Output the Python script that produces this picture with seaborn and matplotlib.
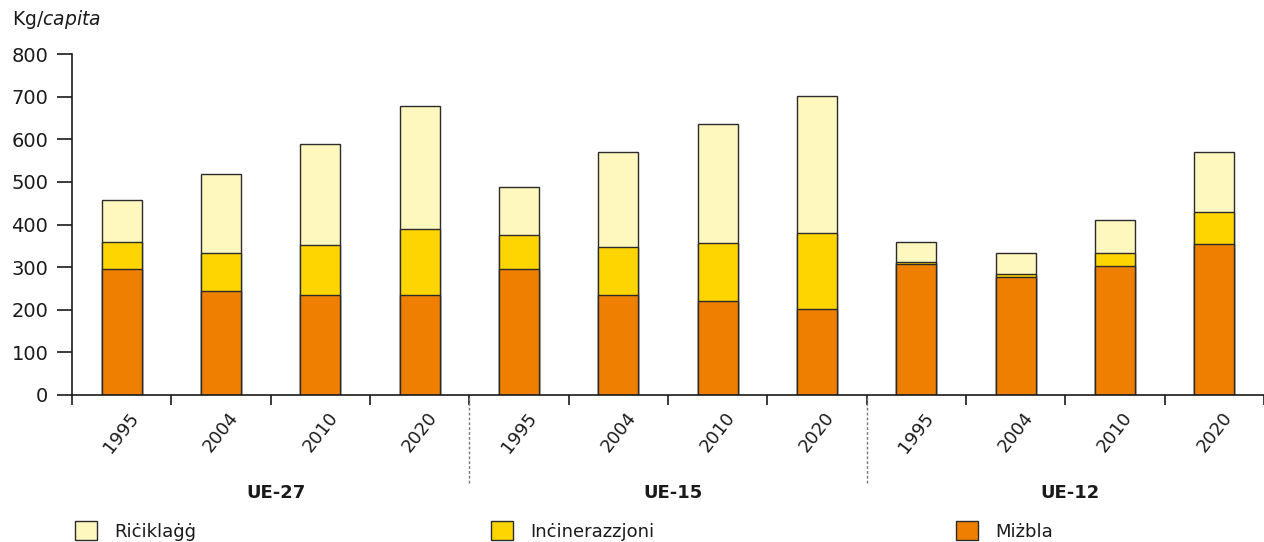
import numpy as np
import pandas as pd
import matplotlib
matplotlib.use("Agg")
import matplotlib.pyplot as plt
import matplotlib.transforms as mtransforms
from matplotlib.patches import Patch
import seaborn as sns

# Municipal waste treatment, kg per capita
groups = ["UE-27", "UE-15", "UE-12"]
years = ["1995", "2004", "2010", "2020"]
landfill = [295, 243, 234, 234, 295, 234, 220, 201, 308, 276, 303, 355]
incineration = [65, 90, 117, 155, 80, 113, 136, 178, 4, 9, 29, 75]
recycling = [98, 186, 239, 289, 112, 224, 280, 322, 48, 47, 79, 140]
series_names = ["Riċiklaġġ", "Inċinerazzjoni", "Miżbla"]
y_ticks = [0, 100, 200, 300, 400, 500, 600, 700, 800]

colors = {"Riċiklaġġ": "#FEF7BE", "Inċinerazzjoni": "#FFD500", "Miżbla": "#EE7F00"}
edge = "#2b2b2b"
text_color = "#1a1a1a"

slots = [f"{g} {y}" for g in groups for y in years]
df = pd.DataFrame({
    "slot": slots,
    "landfill": landfill,
    "incineration": incineration,
    "recycling": recycling,
})
df["lvl_incin"] = df["landfill"] + df["incineration"]
df["lvl_total"] = df["lvl_incin"] + df["recycling"]

sns.set_style("ticks")
plt.rcParams["font.family"] = ["DejaVu Sans"]

fig = plt.figure(figsize=(12.64, 5.42), dpi=100)
ax = fig.add_axes([72 / 1264, 147 / 542, 1192 / 1264, 341 / 542])

# stacked bars drawn as overlapping cumulative levels
for col, name in [("lvl_total", "Riċiklaġġ"), ("lvl_incin", "Inċinerazzjoni"), ("landfill", "Miżbla")]:
    sns.barplot(data=df, x="slot", y=col, order=slots, color=colors[name],
                saturation=1, width=0.4, edgecolor=edge, linewidth=1,
                errorbar=None, ax=ax)

ax.set_xlim(-0.5, 11.42)
ax.set_ylim(0, 800)
ax.set_yticks(y_ticks)
ax.set_xlabel("")
ax.set_ylabel("")
sns.despine(ax=ax, top=True, right=True)
for sp in ["left", "bottom"]:
    ax.spines[sp].set_color(text_color)
    ax.spines[sp].set_linewidth(1.2)

ax.tick_params(axis="y", length=11, width=1.2, pad=6, labelsize=14,
               colors=text_color)
ax.set_xticks(range(len(slots)))
ax.set_xticklabels(years * len(groups), rotation=52, ha="right", va="center",
                   rotation_mode="anchor", fontsize=13, color=text_color)
ax.tick_params(axis="x", which="major", length=0, pad=14)
ax.set_xticks(np.arange(-0.5, len(slots), 1), minor=True)
ax.tick_params(axis="x", which="minor", length=7, width=1.2, color=text_color)
shift = mtransforms.ScaledTranslation(10 / 72, 0, fig.dpi_scale_trans)
for lab in ax.get_xticklabels():
    lab.set_transform(lab.get_transform() + shift)

# group separators and names
for xb in [3.5, 7.5]:
    ax.axvline(xb, ymin=-0.258, ymax=0, color="#777777", lw=1,
               linestyle=(0, (2, 1.5)), clip_on=False)
trans = mtransforms.blended_transform_factory(ax.transData, fig.transFigure)
for i, g in enumerate(groups):
    ax.text(i * 4 + 1.55, 1 - 493 / 542, g, transform=trans, ha="center",
            va="center", fontsize=13, fontweight="bold", color=text_color)

fig.text(12 / 1264, 1 - 25 / 542, "Kg/$\\mathit{capita}$", fontsize=13.5,
         color=text_color, ha="left", va="baseline")

# legend, one entry per column position
legend_x = [75 / 1264, 491 / 1264, 956 / 1264]
for name, lx in zip(series_names, legend_x):
    h = Patch(facecolor=colors[name], edgecolor=edge, linewidth=1)
    fig.legend(handles=[h], labels=[name], loc="center left",
               bbox_to_anchor=(lx, 1 - 531 / 542), frameon=False,
               borderpad=0, borderaxespad=0, handlelength=1.2,
               handleheight=1.2, handletextpad=1.0, fontsize=13,
               labelcolor=text_color)

fig.savefig("out.png", dpi=100)
